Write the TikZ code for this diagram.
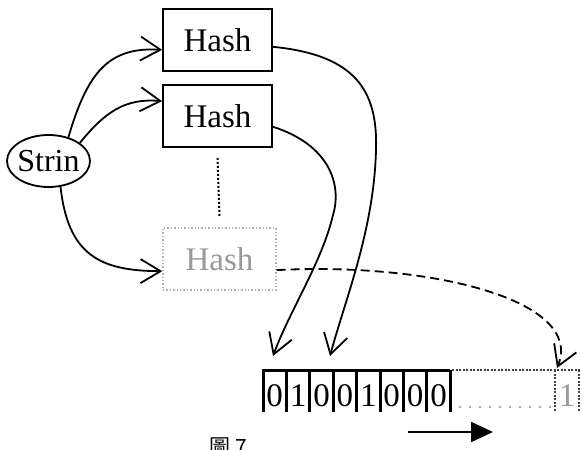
\documentclass[tikz,border=0pt]{standalone}
\usepackage{fontspec}
\setmainfont{Liberation Serif}
\newfontfamily\cjkfont{Noto Sans CJK TC}
\usetikzlibrary{arrows.meta,shapes.geometric}

\tikzset{F7hash/.style={draw,line width=1.8pt,minimum width=109pt,minimum height=62pt,inner sep=0pt,font=\fontsize{33}{33}\selectfont},
         F7ghost/.style={F7hash,minimum width=113pt,draw=black!30,line width=1.4pt,dotted,text=black!40},
         F7str/.style={ellipse,draw,line width=1.8pt,minimum width=83pt,minimum height=52pt,inner xsep=-8pt,inner ysep=-4pt,font=\fontsize{32}{32}\selectfont},
         F7arr/.style={line width=1.8pt,-{Straight Barb[length=20pt,width=24pt,line width=1.8pt]}},
         F7bit/.style={font=\fontsize{33}{33}\selectfont,inner sep=0pt},
         F7wall/.style={line width=3pt},
         F7far/.style={line width=2.5pt,black!75,dash pattern=on 2pt off 1.5pt}}

\begin{document}
\begin{tikzpicture}[x=1pt,y=-1pt]
    \useasboundingbox (0,0) rectangle (582,450);
    \clip (0,0) rectangle (582,450);
    \node[F7str] (str) at (48.5,161) {Strin};
    \node[F7hash] (h1) at (217.5,40) {Hash};
    \node[F7hash] (h2) at (217.5,116) {Hash};
    \node[F7ghost] (h3) at (219.5,259) {Hash};
    \draw[line width=2pt,dash pattern=on 2pt off 2pt] ([yshift=-10pt]h2.south) -- ([yshift=10pt]h3.north);
    \draw[F7arr] (str.50) .. controls (88,70) and (110,47) .. (h1.190);
    \draw[F7arr] (str.30) .. controls (105,112) and (125,98) .. (h2.165);
    \draw[F7arr] (str.-65) .. controls (68,255) and (100,271) .. (h3.192);
    % bit array
    \foreach \d [count=\i] in {0,1,0,0,1,0,0,0}
      {\node[F7bit] (c\i) at (263+23.4*\i-11.7,396) {\d};
       \draw[F7wall] (263+23.4*\i,370) -- (263+23.4*\i,412);}
    \draw[F7wall] (263,412) -- (263,370) -- (450.2,370);
    \draw[F7far] (452,370) -- (582,370);
    \draw[F7far] (555,370) -- (555,412); \draw[F7far] (579,370) -- (579,412);
    \node[F7bit,text=black!40] (cx) at (567,396) {1};
    \draw[black!35,line width=2.6pt,line cap=round,dash pattern=on 0pt off 10pt] (460,407) -- (552,407);
    \coordinate (p1) at (273,356); \coordinate (p3) at (330,356); \coordinate (p9) at (557,368);
    \draw[F7arr] (h2.-11) .. controls (330,145) and (342,185) .. (333,215) .. controls (322,262) and (290,310) .. (p1);
    \draw[F7arr] (h1.-7) .. controls (355,55) and (378,90) .. (376,150) .. controls (374,230) and (345,300) .. (p3);
    \draw[F7arr,dash pattern=on 9pt off 5pt] (h3.-11) .. controls (430,262) and (585,300) .. (p9);
    % shift arrow
    \coordinate (m0) at (408,432); \coordinate (m1) at (493,432);
    \draw[line width=2pt,-{Triangle[length=22pt,width=20pt]}] (m0) -- (m1);
    \node[font=\cjkfont\fontsize{21}{21}\selectfont,anchor=base] (cap) at (228,454) {圖 7};
  \end{tikzpicture}
\end{document}
